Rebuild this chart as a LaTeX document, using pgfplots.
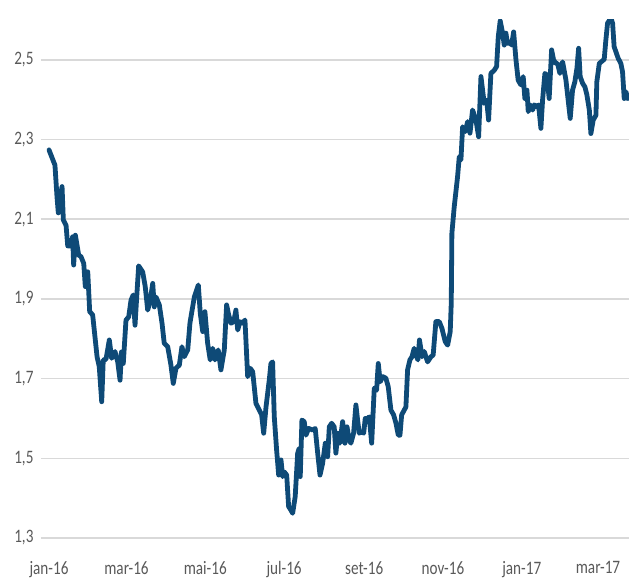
\documentclass[border=0pt]{standalone}
\usepackage{pgfplots}
\pgfplotsset{compat=1.18}
\usepackage{pgfplotstable}
\usepackage{fontspec}
\setmainfont[FakeStretch=0.8]{Carlito}
\definecolor{serie}{HTML}{0E4A77}
\definecolor{gridc}{HTML}{D9D9D9}
\definecolor{labc}{HTML}{595959}
\pgfplotstableread{
d v
0 2.274
3.6 2.244
4.6 2.236
6.2 2.156
7.2 2.116
8.7 2.153
10.1 2.182
11.1 2.098
13.2 2.085
14.5 2.033
17.0 2.033
18.3 2.056
19.1 1.985
20.4 2.060
23.0 2.010
24.8 2.006
26.9 1.989
28.1 1.931
30.0 1.968
31.5 1.868
33.8 1.860
37.2 1.755
38.9 1.730
40.8 1.642
42.0 1.747
44.1 1.748
46.7 1.797
48.5 1.751
51.1 1.768
53.2 1.742
55.0 1.696
56.1 1.767
57.5 1.738
59.6 1.847
61.7 1.855
63.5 1.897
65.2 1.910
66.6 1.834
67.9 1.905
69.4 1.983
72.5 1.968
74.5 1.931
76.4 1.872
78.4 1.897
80.3 1.939
81.5 1.880
82.8 1.905
85.4 1.885
87.5 1.839
89.2 1.789
91.9 1.780
94.4 1.734
96.2 1.688
98.3 1.726
100.9 1.734
102.9 1.780
104.7 1.755
107.4 1.772
109.1 1.839
112.5 1.905
115.6 1.935
117.1 1.864
119.0 1.818
120.7 1.868
122.8 1.789
124.8 1.747
126.7 1.776
128.5 1.747
131.0 1.772
133.1 1.722
135.7 1.772
137.5 1.885
139.1 1.860
140.9 1.839
143.0 1.843
144.7 1.872
146.1 1.822
147.8 1.843
149.9 1.839
151.7 1.847
153.8 1.705
155.8 1.726
157.7 1.717
160.2 1.638
162.8 1.621
164.6 1.609
166.2 1.563
168.0 1.629
170.5 1.696
171.8 1.738
173.1 1.742
174.4 1.604
176.2 1.521
177.8 1.458
179.6 1.496
180.9 1.454
182.1 1.466
184.0 1.458
185.5 1.379
187.3 1.370
188.6 1.362
190.6 1.404
192.5 1.513
193.7 1.525
194.5 1.454
195.8 1.596
197.6 1.592
198.9 1.558
201.0 1.575
204.1 1.571
206.1 1.575
208.0 1.513
209.8 1.458
211.8 1.487
213.9 1.538
215.7 1.504
217.0 1.579
218.8 1.588
220.8 1.579
222.1 1.513
223.5 1.563
225.2 1.538
227.3 1.592
229.1 1.538
230.7 1.579
232.4 1.546
233.7 1.538
235.8 1.563
237.6 1.634
238.9 1.596
240.2 1.563
242.0 1.567
243.6 1.563
244.8 1.600
246.7 1.600
247.9 1.604
249.8 1.538
251.8 1.676
253.6 1.671
254.9 1.738
256.4 1.692
258.3 1.705
260.8 1.701
262.6 1.680
264.7 1.621
266.8 1.609
268.6 1.588
270.4 1.558
271.7 1.558
273.0 1.609
275.0 1.621
276.3 1.629
277.6 1.722
279.4 1.747
281.0 1.755
282.7 1.776
284.1 1.759
285.6 1.747
286.8 1.797
288.8 1.755
290.5 1.768
293.1 1.742
295.7 1.755
297.4 1.759
299.5 1.843
302.1 1.843
304.2 1.826
306.7 1.793
308.6 1.784
310.6 1.818
311.4 1.889
311.9 2.065
313.7 2.131
316.3 2.207
317.6 2.257
318.9 2.249
320.2 2.332
322.2 2.320
324.1 2.345
325.9 2.316
327.9 2.374
330.5 2.349
332.6 2.307
334.4 2.458
336.9 2.391
338.8 2.399
340.3 2.349
342.1 2.466
344.7 2.474
346.5 2.483
347.8 2.558
349.3 2.598
351.2 2.567
352.4 2.537
353.7 2.567
355.0 2.541
356.8 2.545
358.1 2.537
359.7 2.570
361.5 2.500
363.2 2.449
365.3 2.437
367.1 2.458
368.4 2.403
370.0 2.424
371.0 2.370
372.5 2.387
374.4 2.374
375.6 2.387
377.7 2.382
379.0 2.387
380.8 2.328
382.1 2.399
383.9 2.466
385.4 2.462
387.2 2.403
389.1 2.525
390.6 2.500
392.4 2.491
393.7 2.491
395.5 2.466
397.6 2.495
400.2 2.449
401.9 2.399
403.5 2.353
405.3 2.424
407.1 2.445
408.7 2.479
410.0 2.529
411.2 2.458
413.1 2.441
414.9 2.432
416.4 2.412
418.3 2.374
419.5 2.315
421.3 2.349
423.4 2.361
424.1 2.445
426.0 2.491
428.6 2.498
429.8 2.501
431.1 2.550
432.4 2.592
435.0 2.605
436.3 2.592
437.5 2.533
438.9 2.520
440.6 2.504
442.7 2.491
444.0 2.470
445.3 2.403
446.6 2.420
447.9 2.403
}\datatable
\begin{document}
\begin{tikzpicture}
\begin{axis}[
  at={(0pt,0pt)}, anchor=origin,
  scale only axis,
  width=588pt, height=518pt,
  xmin=-6.2, xmax=449,
  ymin=1.3, ymax=2.6,
  axis line style={draw=none},
  major tick length=0pt,
  ytick={1.3,1.5,1.7,1.9,2.1,2.3,2.5},
  ymajorgrids,
  grid style={gridc, line width=1.6pt},
  xtick={0,60,121,182,244,305,366,425},
  xticklabels={jan-16,mar-16,mai-16,jul-16,set-16,nov-16,jan-17,mar-17},
  yticklabel={\pgfmathprintnumber[fixed, fixed zerofill, precision=1, use comma, assume math mode=true]{\tick}},
  tick label style={font=\fontsize{19}{21}\selectfont, text=labc},
  xticklabel style={yshift=-20pt},
  yticklabel style={xshift=-4pt},
]
\addplot[serie, line width=4.8pt, line join=round, line cap=round] table[x=d, y=v] {\datatable};
\end{axis}
\pgfresetboundingbox
\path (-49pt,-46pt) rectangle (587pt,538pt);
\end{tikzpicture}
\end{document}
